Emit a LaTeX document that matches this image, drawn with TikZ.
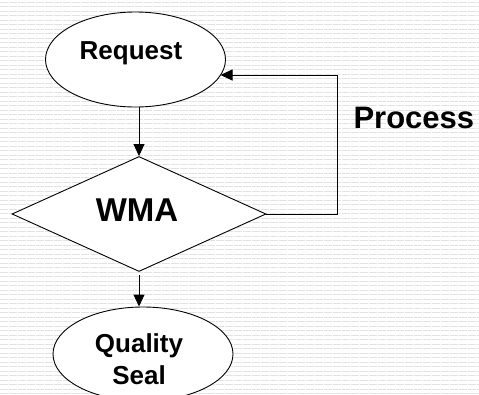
\documentclass[tikz,border=0pt]{standalone}
\usepackage{fontspec}
\setmainfont{Liberation Sans}
\usetikzlibrary{shapes.geometric,arrows.meta}
\begin{document}
\begin{tikzpicture}[x=1pt,y=-1pt,
  shapebox/.style={draw=black,fill=white,line width=0.9pt,inner sep=0pt},
  conn/.style={draw=black,line width=0.9pt,-{Triangle[length=12pt,width=11pt]}}]
\useasboundingbox (0,0) rectangle (479,394);
\fill[white] (0,0) rectangle (479,394);
\foreach \y in {2,6.5,...,394} {
  \draw[gray!22,line width=1pt,dash pattern=on 8pt off 1pt] (0,\y) -- (479,\y);
}
\node[shapebox,ellipse,minimum width=180pt,minimum height=95pt] (req) at (135.5,59.5) {};
\node[font=\bfseries\fontsize{26}{30}\selectfont] (reqt) at (131,53) {Request};
\node[shapebox,diamond,minimum width=254pt,minimum height=115pt,aspect=2.2] (wma) at (139,214) {};
\node[font=\bfseries\fontsize{33}{36}\selectfont] (wmat) at (137,210) {WMA};
\node[shapebox,ellipse,minimum width=180pt,minimum height=94pt] (qs) at (143,354) {};
\node[font=\bfseries\fontsize{26}{32}\selectfont,align=center] (qst) at (139,359) {Quality\\Seal};
\node[font=\bfseries\fontsize{31}{34}\selectfont,anchor=west] (proc) at (350,118) {Process};
\coordinate (c1) at (337.5,214);
\coordinate (c2) at (337.5,75);
\coordinate (tip) at (220.5,75);
\draw[conn] (wma.north |- req.south) -- (wma.north);
\draw[conn] ([yshift=-3pt]wma.south) -- (wma.south |- qs.north);
\draw[conn] (wma.east) -- (c1) -- (c2) -- (tip);
\end{tikzpicture}
\end{document}
